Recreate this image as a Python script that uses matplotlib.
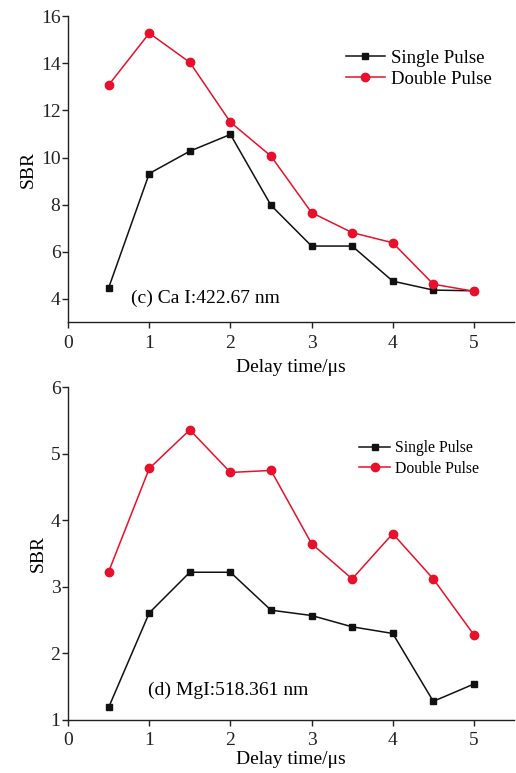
import matplotlib
matplotlib.use("Agg")
import matplotlib.pyplot as plt

# 数据 (c) Ca I
delay = [0.5, 1.0, 1.5, 2.0, 2.5, 3.0, 3.5, 4.0, 4.5, 5.0]
ca_single = [4.47, 9.32, 10.27, 10.98, 7.97, 6.24, 6.24, 4.75, 4.37, 4.34]
ca_double = [13.08, 15.28, 14.04, 11.5, 10.06, 7.66, 6.81, 6.38, 4.62, 4.32]
# 数据 (d) Mg I
mg_single = [1.19, 2.61, 3.22, 3.22, 2.65, 2.57, 2.40, 2.30, 1.28, 1.54]
mg_double = [3.23, 4.78, 5.36, 4.72, 4.75, 3.65, 3.12, 3.80, 3.12, 2.28]

plt.rcParams["font.family"] = ["Liberation Serif", "DejaVu Serif"]
RED = "#e8102a"
FS = 14

fig = plt.figure(figsize=(5.16, 7.73), dpi=100)
ax1 = fig.add_axes([0.132, 0.583, 0.865, 0.396])
ax2 = fig.add_axes([0.132, 0.0686, 0.865, 0.4304])


def style(ax, lpad):
    for s in ("top", "right"):
        ax.spines[s].set_visible(False)
    for s in ("left", "bottom"):
        ax.spines[s].set_linewidth(1.0)
        ax.spines[s].set_color("#222222")
    ax.tick_params(direction="out", length=4, width=1.0, labelsize=FS,
                   colors="#222222", pad=1.5)
    ax.tick_params(axis="x", pad=5)
    ax.set_xlim(0, 5.5)
    ax.set_xticks([0, 1, 2, 3, 4, 5])
    ax.set_xlabel("Delay time/μs", fontsize=FS, labelpad=lpad)
    ax.set_ylabel("SBR", fontsize=FS, labelpad=3)


ax1.plot(delay, ca_single, color="#111111", marker="s", markersize=5,
         linewidth=1.1, label="Single Pulse")
ax1.plot(delay, ca_double, color=RED, marker="o", markersize=6,
         linewidth=1.1, label="Double Pulse")
style(ax1, 5)
ax1.set_ylim(3, 16)
ax1.set_yticks([4, 6, 8, 10, 12, 14, 16])
ax1.text(0.77, 4.0, "(c) Ca I:422.67 nm", fontsize=FS, va="center")
ax1.legend(loc="upper right", bbox_to_anchor=(0.965, 0.915), frameon=False,
           fontsize=13.5, handlelength=2.1, handletextpad=0.3,
           labelspacing=0.2, borderaxespad=0)

ax2.plot(delay, mg_single, color="#111111", marker="s", markersize=5,
         linewidth=1.1, label="Single Pulse")
ax2.plot(delay, mg_double, color=RED, marker="o", markersize=6,
         linewidth=1.1, label="Double Pulse")
style(ax2, 1)
ax2.set_ylim(1, 6)
ax2.set_yticks([1, 2, 3, 4, 5, 6])
ax2.text(0.98, 1.45, "(d) MgI:518.361 nm", fontsize=FS, va="center")
ax2.legend(loc="upper right", bbox_to_anchor=(0.935, 0.86), frameon=False,
           fontsize=11.3, handlelength=2.0, handletextpad=0.3,
           labelspacing=0.3, borderaxespad=0)

fig.savefig("out.png", dpi=100)
